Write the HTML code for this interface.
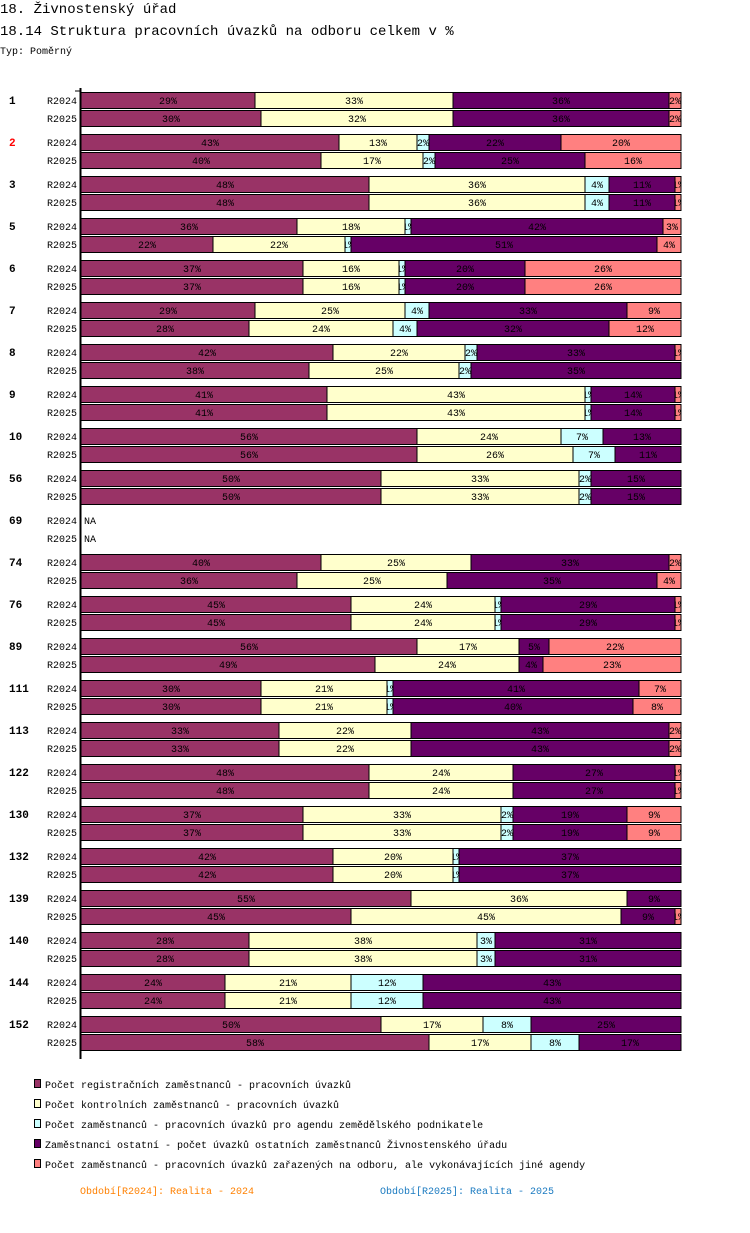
<!DOCTYPE html>
<html><head><meta charset="utf-8"><style>
body{margin:0;background:#fff;width:750px;height:1228px;overflow:hidden;font-family:"Liberation Mono",monospace;}
svg text{font-family:"Liberation Mono",monospace;}
</style></head><body>
<svg id="c" width="750" height="1228" xmlns="http://www.w3.org/2000/svg">
<text x="0" y="13" font-size="14">18. Živnostenský úřad</text>
<text x="0" y="35" font-size="14">18.14 Struktura pracovních úvazků na odboru celkem v %</text>
<text x="0" y="54" font-size="10">Typ: Poměrný</text>
<line x1="80.5" y1="88" x2="80.5" y2="1059" stroke="#000" stroke-width="2"/>
<line x1="75" y1="91" x2="80" y2="91" stroke="#000"/>
<g id="bars"></g>
<g id="legend"></g>
<text x="80" y="1194" font-size="10" fill="#ff8000">Období[R2024]: Realita - 2024</text>
<text x="380" y="1194" font-size="10" fill="#1a7ac0">Období[R2025]: Realita - 2025</text>
</svg>
<script>
const groups = ["1","2","3","5","6","7","8","9","10","56","69","74","76","89","111","113","122","130","132","139","140","144","152"];
const periods = ["R2024","R2025"];
const values2024 = [[29,33,0,36,2],[43,13,2,22,20],[48,36,4,11,1],[36,18,1,42,3],[37,16,1,20,26],[29,25,4,33,9],[42,22,2,33,1],[41,43,1,14,1],[56,24,7,13,0],[50,33,2,15,0],null,[40,25,0,33,2],[45,24,1,29,1],[56,17,0,5,22],[30,21,1,41,7],[33,22,0,43,2],[48,24,0,27,1],[37,33,2,19,9],[42,20,1,37,0],[55,36,0,9,0],[28,38,3,31,0],[24,21,12,43,0],[50,17,8,25,0]];
const values2025 = [[30,32,0,36,2],[40,17,2,25,16],[48,36,4,11,1],[22,22,1,51,4],[37,16,1,20,26],[28,24,4,32,12],[38,25,2,35,0],[41,43,1,14,1],[56,26,7,11,0],[50,33,2,15,0],null,[36,25,0,35,4],[45,24,1,29,1],[49,24,0,4,23],[30,21,1,40,8],[33,22,0,43,2],[48,24,0,27,1],[37,33,2,19,9],[42,20,1,37,0],[45,45,0,9,1],[28,38,3,31,0],[24,21,12,43,0],[58,17,8,17,0]];
const seriesNames = ["Počet registračních zaměstnanců - pracovních úvazků","Počet kontrolních zaměstnanců - pracovních úvazků","Počet zaměstnanců - pracovních úvazků pro agendu zemědělského podnikatele","Zaměstnanci ostatní - počet úvazků ostatních zaměstnanců Živnostenského úřadu","Počet zaměstnanců - pracovních úvazků zařazených na odboru, ale vykonávajících jiné agendy"];
const colors = ["#993366","#ffffcc","#ccffff","#660066","#ff8080"];
const NS="http://www.w3.org/2000/svg";
const X0=81, W=600, Y0=92, GAP=42, ROW=18, H=16;
const xs = v => v/100*W;
const gy = (gi,pi) => Y0+gi*GAP+pi*ROW;
function mk(t,a,p){const e=document.createElementNS(NS,t);for(const k in a)e.setAttribute(k,a[k]);p.appendChild(e);return e;}
const bars=document.getElementById('bars');
groups.forEach((g,gi)=>{
  const gl=mk('text',{x:9,y:gy(gi,0)+12,'font-size':11,'font-weight':'bold',fill:g==="2"?"#ff0000":"#000"},bars);
  gl.textContent=g;
  
  
  [values2024[gi],values2025[gi]].forEach((vals,pi)=>{
    const y=gy(gi,pi);
    const pl=mk('text',{x:77,y:y+12,'font-size':10,'text-anchor':'end'},bars);
    pl.textContent=periods[pi];
    
    
    if(!vals){const na=mk('text',{x:84,y:y+12,'font-size':10},bars);na.textContent="NA";
      
      return;}
    const sum=vals.reduce((a,b)=>a+b,0);
    let acc=0;
    vals.forEach((v,si)=>{
      if(v<=0)return;
      const x=X0+xs(acc/sum*100), w=xs(v/sum*100);
      acc+=v;
      const r=mk('rect',{x:x,y:y+0.5,width:w,height:H,fill:colors[si],stroke:'#000','stroke-width':1},bars);
      
      
      const s=mk('svg',{x:x,y:y,width:w,height:H+1,overflow:'hidden'},bars);
      const t=mk('text',{x:w/2,y:12,'font-size':10,'text-anchor':'middle',fill:'#000'},s);
      t.textContent=v+"%";
      
      
    });
  });
});
const lg=document.getElementById('legend');
seriesNames.forEach((n,i)=>{
  const y=1079+i*20;
  const r=mk('rect',{x:34.5,y:y+0.5,width:6,height:8,fill:colors[i],stroke:'#000'},lg);
  
  
  const t=mk('text',{x:45,y:y+9,'font-size':10},lg);
  t.textContent=n;
  
  
});
</script>
</body></html>
